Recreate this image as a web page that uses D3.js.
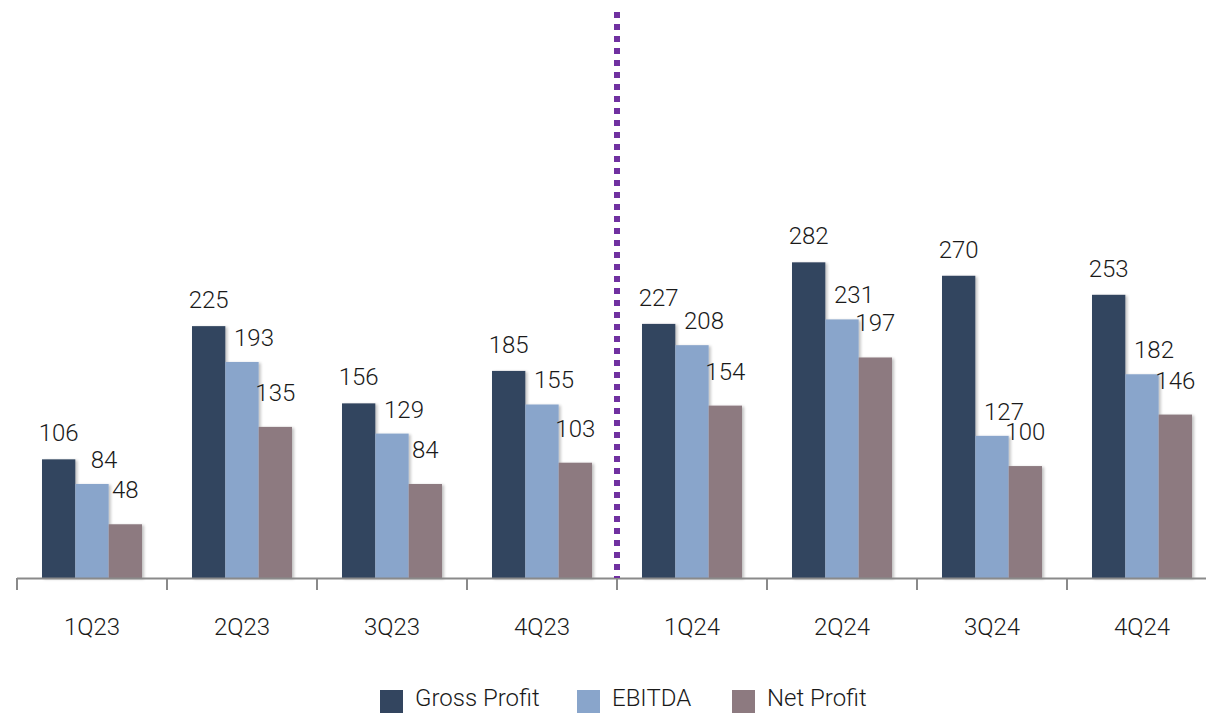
<!DOCTYPE html>
<html>
<head>
<meta charset="utf-8">
<script src="https://cdn.jsdelivr.net/npm/d3@7/dist/d3.min.js"></script>
<style>
  html, body { margin: 0; padding: 0; background: #fff; }
  svg { display: block; }
  text { font-family: Roboto, "Liberation Sans", Arial, sans-serif; font-weight: 300; }
</style>
</head>
<body>
<svg id="chart" width="1206" height="714"></svg>
<script>
// ---- data ----
const categories = ["1Q23", "2Q23", "3Q23", "4Q23", "1Q24", "2Q24", "3Q24", "4Q24"];
const seriesNames = ["Gross Profit", "EBITDA", "Net Profit"];
const grossProfit = [106, 225, 156, 185, 227, 282, 270, 253];
const ebitda      = [84, 193, 129, 155, 208, 231, 127, 182];
const netProfit   = [48, 135, 84, 103, 154, 197, 100, 146];
const dividerBefore = "1Q24";

// ---- styles ----
const colors = ["#33455f", "#89a5cb", "#8d7a80"];
const labelDx = [0, 12, 0];
const labelGap = [18, 16, 26];

const seriesValues = [grossProfit, ebitda, netProfit];
const rows = categories.map((c, i) => ({
  cat: c,
  vals: seriesNames.map((s, k) => ({ key: s, k, value: seriesValues[k][i] }))
}));

const svg = d3.select("#chart");
const x0 = d3.scaleBand().domain(categories).range([17, 1217]).paddingInner(0).paddingOuter(0);
const x1 = d3.scaleBand().domain(seriesNames).range([25, x0.bandwidth() - 25]).padding(0);
const y = d3.scaleLinear().domain([0, 500]).range([578, 18.3]);

// shadow filter
const defs = svg.append("defs");
const f = defs.append("filter").attr("id", "sh").attr("x", "-20%").attr("y", "-5%").attr("width", "150%").attr("height", "115%");
f.append("feGaussianBlur").attr("in", "SourceAlpha").attr("stdDeviation", 1.5).attr("result", "b");
f.append("feOffset").attr("in", "b").attr("dx", 2).attr("dy", 1).attr("result", "o");
f.append("feComponentTransfer").attr("in", "o").attr("result", "oa")
  .append("feFuncA").attr("type", "linear").attr("slope", 0.25);
const m = f.append("feMerge");
m.append("feMergeNode").attr("in", "oa");
m.append("feMergeNode").attr("in", "SourceGraphic");

// bars
const groups = svg.append("g").selectAll("g").data(rows).join("g")
  .attr("transform", d => `translate(${x0(d.cat)},0)`);
groups.selectAll("rect").data(d => d.vals).join("rect")
  .attr("x", d => x1(d.key))
  .attr("width", x1.bandwidth())
  .attr("y", d => y(d.value))
  .attr("height", d => y(0) - y(d.value))
  .attr("fill", d => colors[d.k])
  .attr("filter", "url(#sh)");

// value labels
groups.selectAll("text").data(d => d.vals).join("text")
  .attr("x", d => x1(d.key) + x1.bandwidth() / 2 + labelDx[d.k])
  .attr("y", d => y(d.value) - labelGap[d.k])
  .attr("text-anchor", "middle")
  .attr("font-size", 24)
  .attr("fill", "#1a1a1a")
  .text(d => d.value);

// x axis
const axis = svg.append("g").attr("transform", `translate(0,${y(0)})`);
axis.append("line").attr("x1", 17).attr("x2", 1206).attr("y1", 0.5).attr("y2", 0.5)
  .attr("stroke", "#8a8a8a").attr("stroke-width", 2);
const bounds = categories.map(c => x0(c)).concat([x0.range()[1]]);
axis.selectAll("line.tick").data(bounds).join("line").attr("class", "tick")
  .attr("x1", d => d).attr("x2", d => d).attr("y1", 0).attr("y2", 12)
  .attr("stroke", "#8a8a8a").attr("stroke-width", 2);
axis.selectAll("text").data(categories).join("text")
  .attr("x", d => x0(d) + x0.bandwidth() / 2)
  .attr("y", 57)
  .attr("text-anchor", "middle")
  .attr("font-size", 24)
  .attr("fill", "#1a1a1a")
  .text(d => d);

// divider
const dx = x0(dividerBefore);
svg.append("line").attr("x1", dx).attr("x2", dx).attr("y1", 12).attr("y2", y(0))
  .attr("stroke", "#7030a0").attr("stroke-width", 6).attr("stroke-dasharray", "6,6");

// legend
const legendX = [380, 577, 732];
const leg = svg.append("g").selectAll("g").data(seriesNames).join("g")
  .attr("transform", (d, i) => `translate(${legendX[i]},0)`);
leg.append("rect").attr("x", 0).attr("y", 690).attr("width", 23).attr("height", 23)
  .attr("fill", (d, i) => colors[i]);
leg.append("text").attr("x", 35).attr("y", 706).attr("font-size", 24).attr("fill", "#1a1a1a").text(d => d);
</script>
</body>
</html>
